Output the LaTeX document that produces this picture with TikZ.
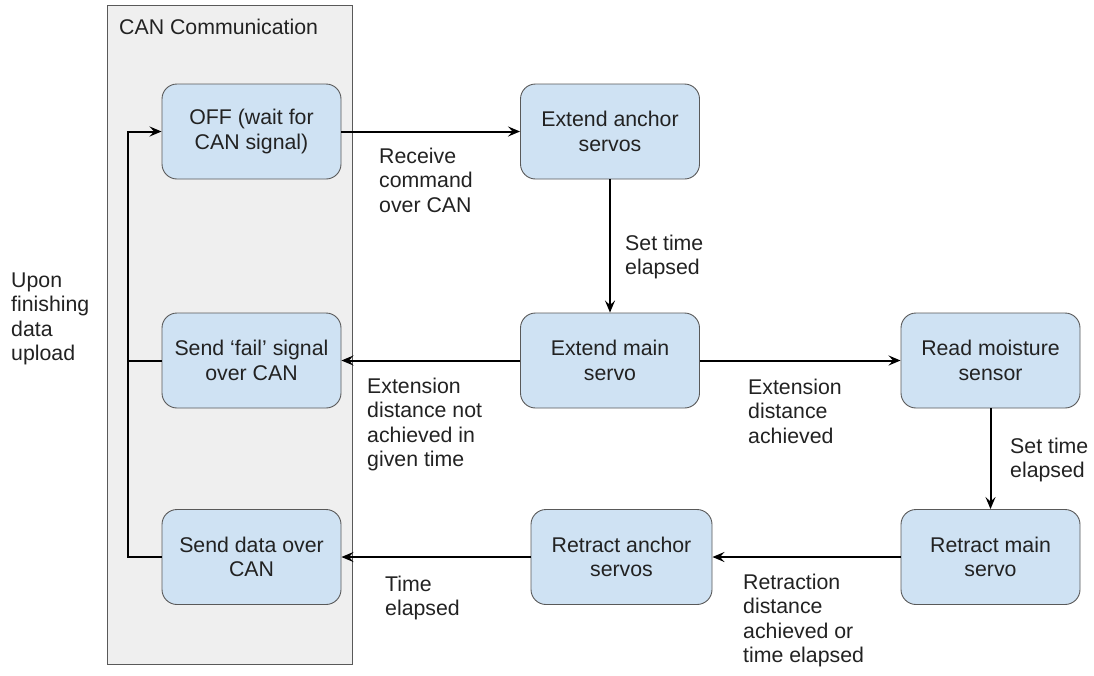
\documentclass[tikz,border=0pt]{standalone}
\usepackage{fontspec}
\setmainfont{Liberation Sans}
\usetikzlibrary{arrows.meta}
\definecolor{boxfill}{HTML}{CFE2F3}
\definecolor{boxline}{HTML}{595959}
\definecolor{grpfill}{HTML}{EFEFEF}
\definecolor{grpline}{HTML}{595959}
\definecolor{txt}{HTML}{222222}
\begin{document}
\begin{tikzpicture}[x=1pt,y=-1pt,
  font=\fontsize{21.3}{24.5}\selectfont,
  state/.style={draw=boxline, line width=0.9pt, fill=boxfill, rounded corners=15pt,
    minimum width=179pt, minimum height=95pt, align=center, text=txt, inner sep=2pt},
  lbl/.style={anchor=base west, align=left, inner sep=0pt, text=txt},
  flow/.style={draw=black, line width=2pt, -{Stealth[length=12pt,width=10pt,inset=4.5pt]}},
  plain/.style={draw=black, line width=2pt}]
\useasboundingbox[fill=white] (0,0) rectangle (1094,675);
% group
\node[draw=grpline, fill=grpfill, line width=0.9pt, minimum width=245pt, minimum height=659pt, inner sep=0pt, anchor=north west] (grp) at (107,5) {};
\node[lbl] (grplbl) at (119,34) {CAN Communication};
% states
\node[state] (off) at (251.5,131.5) {OFF (wait for\\CAN signal)};
\node[state] (fail) at (251.5,360.5) {Send `fail' signal\\over CAN};
\node[state] (data) at (251.5,557) {Send data over\\CAN};
\node[state] (anch) at (610,131.5) {Extend anchor\\servos};
\node[state] (main) at (610,360.5) {Extend main\\servo};
\node[state] (moist) at (990.5,360.5) {Read moisture\\sensor};
\node[state] (rmain) at (990.5,557) {Retract main\\servo};
\node[state, minimum width=181pt] (ranch) at (621.5,557) {Retract anchor\\servos};
% loop
\coordinate (lb) at (128,557);
\coordinate (lt) at (128,131.5);
\draw[flow] (data.west) -- (lb) -- (lt) -- (off.west);
\draw[plain] (fail.west) -- (fail.west -| lb);
% edges
\draw[flow] (off.east) -- (anch.west);
\draw[flow] (anch.south) -- (main.north);
\draw[flow] (main.west) -- (fail.east);
\draw[flow] (main.east) -- (moist.west);
\draw[flow] (moist.south) -- (rmain.north);
\draw[flow] (rmain.west) -- (ranch.east);
\draw[flow] (ranch.west) -- (data.east);
% labels (anchored at the baseline of the last line)
\node[lbl] (l0) at (11,360.5) {Upon\\finishing\\data\\upload};
\node[lbl] (l1) at (379,212) {Receive\\command\\over CAN};
\node[lbl] (l2) at (625,274.5) {Set time\\elapsed};
\node[lbl] (l3) at (367,466.5) {Extension\\distance not\\achieved in\\given time};
\node[lbl] (l4) at (748,443) {Extension\\distance\\achieved};
\node[lbl] (l5) at (1010,477.5) {Set time\\elapsed};
\node[lbl] (l6) at (743,662.5) {Retraction\\distance\\achieved or\\time elapsed};
\node[lbl] (l7) at (385,615.5) {Time\\elapsed};
\end{tikzpicture}
\end{document}
